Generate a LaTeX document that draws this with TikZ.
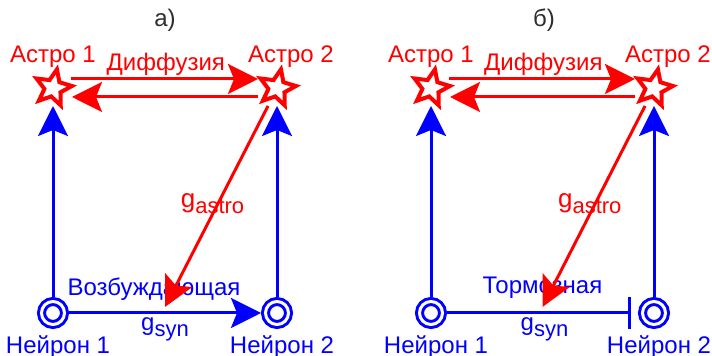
\documentclass[tikz,border=0pt]{standalone}
\usepackage{fontspec}
\setmainfont{Liberation Sans}
\usetikzlibrary{positioning}
\usetikzlibrary{arrows.meta}
\usetikzlibrary{shapes.geometric}
\usetikzlibrary{calc}
\definecolor{figRojo}{RGB}{255,0,0}
\definecolor{figAzul}{RGB}{0,0,255}
\definecolor{figGris}{RGB}{45,45,45}
\tikzset{
  astro/.style={
    star, star points=5, star point ratio=2.2, draw=figRojo, fill=white,
    line width=2pt, minimum size=19pt, inner sep=0pt, rotate=-12
  },
  neurona/.style={
    circle, draw=figAzul, double=white, double distance=1.5pt, line width=1.5pt,
    fill=white, minimum size=11.5pt, inner sep=0pt, outer sep=2.25pt
  },
  texto/.style={font=\fontsize{12}{14}\selectfont, inner sep=0pt},
  textor/.style={texto, text=figRojo},
  textoa/.style={texto, text=figAzul},
  flecha/.style={-{Stealth[length=15pt,width=15pt,inset=3pt]}, line width=1.5pt, draw=figAzul},
  flechar/.style={-{Stealth[length=15pt,width=15pt,inset=3pt]}, line width=1.5pt, draw=figRojo},
  freno/.style={-{Bar[width=16pt,line width=1.5pt]}, line width=1.5pt, draw=figAzul, shorten >=3.5pt}
}
\newcommand{\gsub}[1]{g{\fontsize{11}{12}\selectfont\raisebox{-3pt}{#1}}}

\begin{document}
\begin{tikzpicture}[x=0.5pt, y=-0.5pt]
  \useasboundingbox (0,0) rectangle (712,356);

  % a) excitatory
  \node[texto, text=figGris] (titA) at (165,20) {а)};
  \node[astro] (astroA1) at (53,88) {};
  \node[astro] (astroA2) at (277,88) {};
  \node[neurona] (neuronA1) at (53,313) {};
  \node[neurona] (neuronA2) at (277,313) {};
  \path (astroA1) -- (astroA2) coordinate[midway] (midA);
  \path (neuronA1) -- (neuronA2) coordinate[midway] (synA);

  \node[textor, above=10pt of astroA1.center] (astroA1Txt) {Астро 1};
  \node[textor, above=10pt of astroA2.center, xshift=7pt] (astroA2Txt) {Астро 2};
  \node[textoa, below=11.2pt of neuronA1.center, xshift=2.5pt] (neuronA1Txt) {Нейрон 1};
  \node[textoa, below=11.2pt of neuronA2.center, xshift=2.5pt] (neuronA2Txt) {Нейрон 2};
  \node[textor, above=6pt of midA, xshift=-1.5pt] (diffA) {Диффузия};
  \node[textoa, above=6.3pt of synA, xshift=-5.5pt] (excA) {Возбуждающая};
  \node[textoa, below=2pt of synA] (gsynA) {\gsub{syn}};

  \draw[flechar] ([shift={(18,-9)}]astroA1.center) -- ([shift={(-19,-9)}]astroA2.center);
  \draw[flechar] ([shift={(-19,9)}]astroA2.center) -- ([shift={(19,9)}]astroA1.center);
  \draw[flecha] (neuronA1) -- ([yshift=-9pt]astroA1.center);
  \draw[flecha] (neuronA2) -- ([yshift=-9pt]astroA2.center);
  \draw[flecha] (neuronA1) -- (neuronA2);
  \draw[flechar] ([shift={(-9,18)}]astroA2.center) -- ([yshift=3pt]synA);
  \node[textor, font=\fontsize{13}{14}\selectfont, xshift=-2pt, yshift=3pt] (gastroA) at ($([shift={(-9,18)}]astroA2.center)!0.5!(synA)$) {\gsub{astro}};

  % b) inhibitory
  \node[texto, text=figGris] (titB) at (544,20) {б)};
  \node[astro] (astroB1) at (431,88) {};
  \node[astro] (astroB2) at (654,88) {};
  \node[neurona] (neuronB1) at (431,313) {};
  \node[neurona] (neuronB2) at (654,313) {};
  \path (astroB1) -- (astroB2) coordinate[midway] (midB);
  \path (neuronB1) -- (neuronB2) coordinate[midway] (synB);

  \node[textor, above=10pt of astroB1.center] (astroB1Txt) {Астро 1};
  \node[textor, above=10pt of astroB2.center, xshift=7pt] (astroB2Txt) {Астро 2};
  \node[textoa, below=11.2pt of neuronB1.center, xshift=2.5pt] (neuronB1Txt) {Нейрон 1};
  \node[textoa, below=11.2pt of neuronB2.center, xshift=2.5pt] (neuronB2Txt) {Нейрон 2};
  \node[textor, above=6pt of midB, xshift=-1.5pt] (diffB) {Диффузия};
  \node[textoa, above=7pt of synB] (inhB) {Тормозная};
  \node[textoa, below=2pt of synB, xshift=1pt] (gsynB) {\gsub{syn}};

  \draw[flechar] ([shift={(18,-9)}]astroB1.center) -- ([shift={(-19,-9)}]astroB2.center);
  \draw[flechar] ([shift={(-19,9)}]astroB2.center) -- ([shift={(19,9)}]astroB1.center);
  \draw[flecha] (neuronB1) -- ([yshift=-9pt]astroB1.center);
  \draw[flecha] (neuronB2) -- ([yshift=-9pt]astroB2.center);
  \draw[freno] (neuronB1) -- (neuronB2);
  \draw[flechar] ([shift={(-9,18)}]astroB2.center) -- ([yshift=3pt]synB);
  \node[textor, font=\fontsize{13}{14}\selectfont, xshift=-2pt, yshift=3pt] (gastroB) at ($([shift={(-9,18)}]astroB2.center)!0.5!(synB)$) {\gsub{astro}};
\end{tikzpicture}
\end{document}
